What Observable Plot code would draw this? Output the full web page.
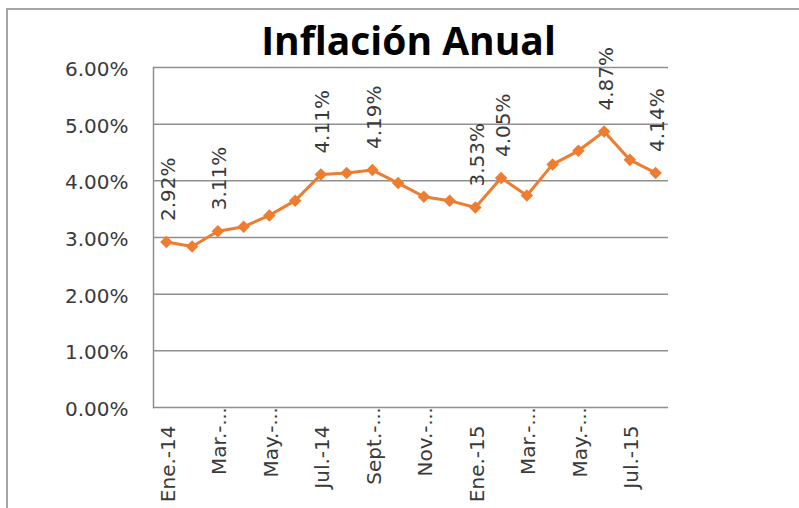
<!DOCTYPE html>
<html>
<head>
<meta charset="utf-8">
<script src="https://cdn.jsdelivr.net/npm/d3@7"></script>
<script src="https://cdn.jsdelivr.net/npm/@observablehq/plot@0.6"></script>
<style>
  html, body { margin: 0; padding: 0; background: #fff; }
  #wrap { position: relative; width: 799px; height: 508px; overflow: hidden; background: #fff; }
  #border { position: absolute; left: 6px; top: 8px; width: 1000px; height: 1000px;
            border-left: 2px solid #a6a6a6; border-top: 2px solid #a6a6a6; box-sizing: border-box; }
  #title { position: absolute; left: 151px; width: 515px; top: 21px; text-align: center;
           font-family: "Open Sans", sans-serif; font-weight: 700; font-size: 39px; line-height: 38px;
           color: #000; z-index: 2; }
  #chart { position: absolute; left: 0; top: 0; z-index: 1; }
</style>
</head>
<body>
<div id="wrap">
  <div id="border"></div>
  <div id="chart"></div>
  <div id="title">Inflación Anual</div>
</div>
<script>
// ---- Data ----
const months = ["Ene.-14","Feb.-14","Mar.-14","Abr.-14","May.-14","Jun.-14","Jul.-14","Ago.-14","Sept.-14","Oct.-14",
                "Nov.-14","Dic.-14","Ene.-15","Feb.-15","Mar.-15","Abr.-15","May.-15","Jun.-15","Jul.-15","Ago.-15"];
const inflation = [2.92, 2.84, 3.11, 3.19, 3.39, 3.65, 4.11, 4.14, 4.19, 3.96,
                   3.72, 3.65, 3.53, 4.05, 3.74, 4.29, 4.53, 4.87, 4.37, 4.14];
const labeledMonths = ["Ene.-14","Mar.-14","Jul.-14","Sept.-14","Ene.-15","Feb.-15","Jun.-15","Ago.-15"];
const tickMonths = ["Ene.-14","Mar.-14","May.-14","Jul.-14","Sept.-14","Nov.-14","Ene.-15","Mar.-15","May.-15","Jul.-15"];
const tickLabels = ["Ene.-14","Mar.-","May.-","Jul.-14","Sept.-","Nov.-","Ene.-15","Mar.-","May.-","Jul.-15"];
const truncatedTicks = ["Mar.-14","May.-14","Sept.-14","Nov.-14","Mar.-15","May.-15"];
const yTicks = [0, 1, 2, 3, 4, 5, 6];

// ---- Build ----
const data = months.map((m, i) => ({month: m, value: inflation[i]}));
const labelMap = new Map(tickMonths.map((m, i) => [m, tickLabels[i]]));
const pct = d => d.toFixed(2) + "%";
const orange = "#ED7D31";
const grey = "#8f8f8f";
const textCol = "#3a3a3a";

const diamond = {
  draw(ctx, size) {
    const r = Math.sqrt(size / 2);
    ctx.moveTo(0, -r); ctx.lineTo(r, 0); ctx.lineTo(0, r); ctx.lineTo(-r, 0); ctx.closePath();
  }
};

const chart = Plot.plot({
  width: 799,
  height: 508,
  marginLeft: 153,
  marginRight: 131,
  marginTop: 67,
  marginBottom: 101,
  style: {fontFamily: "'DejaVu Sans', sans-serif", background: "transparent", overflow: "visible"},
  x: {type: "point", domain: months, padding: 0.5, round: false, label: null, axis: null},
  y: {domain: [0, 6], label: null, axis: null},
  marks: [
    Plot.gridY(yTicks, {stroke: grey, strokeOpacity: 1, strokeWidth: 1.5}),
    Plot.frame({anchor: "left", stroke: grey, strokeWidth: 1.5}),
    Plot.axisY(yTicks, {
      tickFormat: pct, tickSize: 0, tickPadding: 25, fontSize: 20, dy: 2, color: textCol, label: null
    }),
    Plot.axisX(tickMonths, {
      tickFormat: d => labelMap.get(d), tickSize: 0, tickPadding: 18, rotate: -90,
      textAnchor: "end", lineAnchor: "middle", fontSize: 20, dx: 2, color: textCol, label: null
    }),
    Plot.axisX(truncatedTicks, {
      tickFormat: () => "…", tickSize: 0, tickPadding: 18, rotate: -90,
      textAnchor: "start", lineAnchor: "middle", fontSize: 18, dx: 2, color: textCol, label: null
    }),
    Plot.line(data, {x: "month", y: "value", stroke: orange, strokeWidth: 3}),
    Plot.dot(data, {x: "month", y: "value", symbol: diamond, r: 5, fill: orange, stroke: "none"}),
    Plot.text(data.filter(d => labeledMonths.includes(d.month)), {
      x: "month", y: "value", text: d => pct(d.value), rotate: -90,
      textAnchor: "start", lineAnchor: "middle", dy: -21, dx: 2, fontSize: 20, fill: textCol
    })
  ]
});
document.getElementById("chart").appendChild(chart);
</script>
</body>
</html>
